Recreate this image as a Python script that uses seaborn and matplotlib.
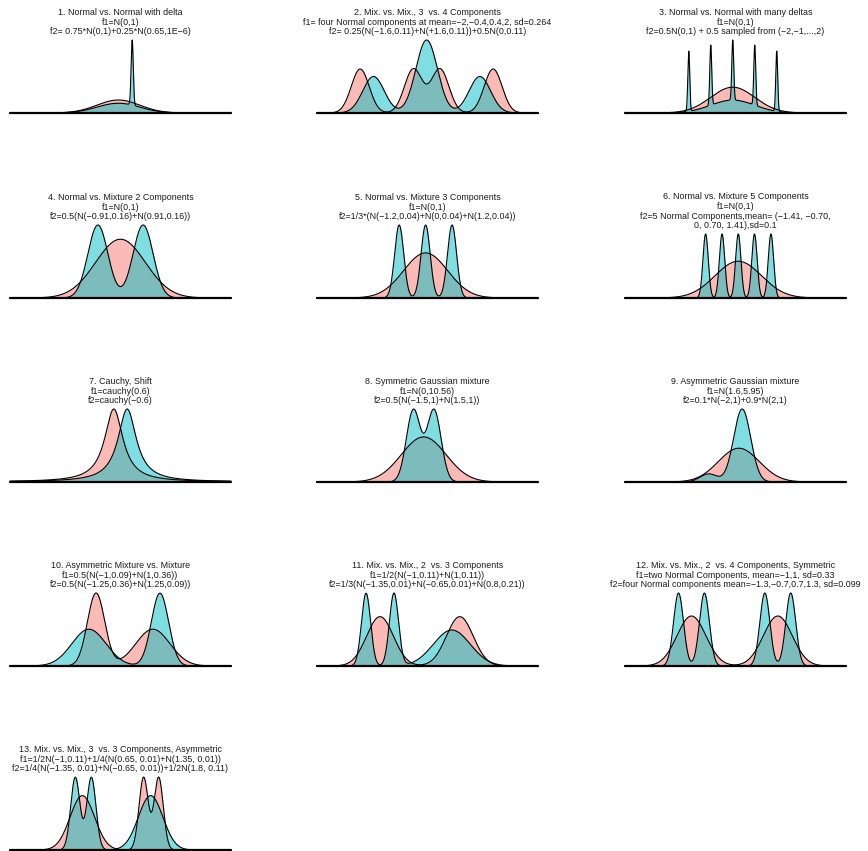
import numpy as np
import matplotlib
matplotlib.use("Agg")
import matplotlib.pyplot as plt
import seaborn as sns

# components per density: (kind, weight, location, scale); scale is an sd for "norm"
p1_f1 = [("norm", 1.0, 0.0, 1.0)]
p1_f2 = [("norm", 0.75, 0.0, 1.0), ("norm", 0.25, 0.65, 0.001)]
p2_f1 = [("norm", 0.25, -2.0, 0.264), ("norm", 0.25, -0.4, 0.264),
         ("norm", 0.25, 0.4, 0.264), ("norm", 0.25, 2.0, 0.264)]
p2_f2 = [("norm", 0.25, -1.6, 0.32), ("norm", 0.25, 1.6, 0.32), ("norm", 0.5, 0.0, 0.32)]
p3_f1 = [("norm", 1.0, 0.0, 1.0)]
p3_f2 = [("norm", 0.5, 0.0, 1.0), ("norm", 0.1, -2.0, 0.0), ("norm", 0.1, -1.0, 0.0),
         ("norm", 0.1, 0.0, 0.0), ("norm", 0.1, 1.0, 0.0), ("norm", 0.1, 2.0, 0.0)]
p4_f1 = [("norm", 1.0, 0.0, 1.0)]
p4_f2 = [("norm", 0.5, -0.91, 0.4), ("norm", 0.5, 0.91, 0.4)]
p5_f1 = [("norm", 1.0, 0.0, 1.0)]
p5_f2 = [("norm", 1 / 3, -1.2, 0.2), ("norm", 1 / 3, 0.0, 0.2), ("norm", 1 / 3, 1.2, 0.2)]
p6_f1 = [("norm", 1.0, 0.0, 1.0)]
p6_f2 = [("norm", 0.2, -1.41, 0.1), ("norm", 0.2, -0.70, 0.1), ("norm", 0.2, 0.0, 0.1),
         ("norm", 0.2, 0.70, 0.1), ("norm", 0.2, 1.41, 0.1)]
p7_f1 = [("cauchy", 1.0, -0.6, 1.0)]
p7_f2 = [("cauchy", 1.0, 0.6, 1.0)]
p8_f1 = [("norm", 1.0, 0.0, 3.25)]
p8_f2 = [("norm", 0.5, -1.5, 1.0), ("norm", 0.5, 1.5, 1.0)]
p9_f1 = [("norm", 1.0, 1.6, 2.44)]
p9_f2 = [("norm", 0.1, -2.0, 1.0), ("norm", 0.9, 2.0, 1.0)]
p10_f1 = [("norm", 0.5, -1.0, 0.3), ("norm", 0.5, 1.0, 0.6)]
p10_f2 = [("norm", 0.5, -1.25, 0.6), ("norm", 0.5, 1.25, 0.3)]
p11_f1 = [("norm", 0.5, -1.0, 0.332), ("norm", 0.5, 1.0, 0.332)]
p11_f2 = [("norm", 0.25, -1.35, 0.1), ("norm", 0.25, -0.65, 0.1), ("norm", 0.5, 0.8, 0.458)]
p12_f1 = [("norm", 0.5, -1.0, 0.33), ("norm", 0.5, 1.0, 0.33)]
p12_f2 = [("norm", 0.25, -1.3, 0.099), ("norm", 0.25, -0.7, 0.099),
          ("norm", 0.25, 0.7, 0.099), ("norm", 0.25, 1.3, 0.099)]
p13_f1 = [("norm", 0.5, -0.95, 0.3), ("norm", 0.25, 0.575, 0.1), ("norm", 0.25, 0.95, 0.1)]
p13_f2 = [("norm", 0.25, -1.125, 0.1), ("norm", 0.25, -0.725, 0.1), ("norm", 0.5, 0.75, 0.3)]

# x range of each panel and smoothing bandwidth of the density estimate
x_ranges = [(-5.1, 5.3), (-3.3, 3.35), (-4.9, 5.15), (-4.45, 4.45), (-4.93, 5.1),
            (-4.89, 4.65), (-9.9, 9.9), (-15.5, 16.6), (-12.0, 14.4), (-4.03, 3.75),
            (-2.58, 2.96), (-2.54, 2.58), (-2.75, 2.75)]
bandwidths = [0.05, 0.05, 0.043, 0.05, 0.05, 0.057, 0.05, 0.2, 0.2, 0.05, 0.055, 0.058, 0.055]

titles = [
    "1. Normal vs. Normal with delta\nf1=N(0,1)\nf2= 0.75*N(0,1)+0.25*N(0.65,1E\u22126)",
    "2. Mix. vs. Mix., 3  vs. 4 Components\nf1= four Normal components at mean=\u22122,\u22120.4,0.4,2, sd=0.264\nf2= 0.25(N(\u22121.6,0.11)+N(+1.6,0.11))+0.5N(0,0.11)",
    "3. Normal vs. Normal with many deltas\nf1=N(0,1)\nf2=0.5N(0,1) + 0.5 sampled from (\u22122,\u22121,...,2)",
    "4. Normal vs. Mixture 2 Components\nf1=N(0,1)\nf2=0.5(N(\u22120.91,0.16)+N(0.91,0.16))",
    "5. Normal vs. Mixture 3 Components\nf1=N(0,1)\nf2=1/3*(N(\u22121.2,0.04)+N(0,0.04)+N(1.2,0.04))",
    "6. Normal vs. Mixture 5 Components\nf1=N(0,1)\nf2=5 Normal Components,mean= (\u22121.41, \u22120.70,\n0, 0.70, 1.41),sd=0.1",
    "7. Cauchy, Shift\nf1=cauchy(0.6)\nf2=cauchy(\u22120.6)",
    "8. Symmetric Gaussian mixture\nf1=N(0,10.56)\nf2=0.5(N(\u22121.5,1)+N(1.5,1))",
    "9. Asymmetric Gaussian mixture\nf1=N(1.6,5.95)\nf2=0.1*N(\u22122,1)+0.9*N(2,1)",
    "10. Asymmetric Mixture vs. Mixture\nf1=0.5(N(\u22121,0.09)+N(1,0.36))\nf2=0.5(N(\u22121.25,0.36)+N(1.25,0.09))",
    "11. Mix. vs. Mix., 2  vs. 3 Components\nf1=1/2(N(\u22121,0.11)+N(1,0.11))\nf2=1/3(N(\u22121.35,0.01)+N(\u22120.65,0.01)+N(0.8,0.21))",
    "12. Mix. vs. Mix., 2  vs. 4 Components, Symmetric\nf1=two Normal Components, mean=\u22121,1, sd=0.33\nf2=four Normal components mean=\u22121.3,\u22120.7,0.7,1.3, sd=0.099",
    "13. Mix. vs. Mix., 3  vs. 3 Components, Asymmetric\nf1=1/2N(\u22121,0.11)+1/4(N(0.65, 0.01)+N(1.35, 0.01))\nf2=1/4(N(\u22121.35, 0.01)+N(\u22120.65, 0.01))+1/2N(1.8, 0.11)",
]

panels = [(p1_f1, p1_f2), (p2_f1, p2_f2), (p3_f1, p3_f2), (p4_f1, p4_f2), (p5_f1, p5_f2),
          (p6_f1, p6_f2), (p7_f1, p7_f2), (p8_f1, p8_f2), (p9_f1, p9_f2), (p10_f1, p10_f2),
          (p11_f1, p11_f2), (p12_f1, p12_f2), (p13_f1, p13_f2)]


def density(x, comps, bw):
    y = np.zeros_like(x)
    for kind, w, loc, scale in comps:
        if kind == "cauchy":
            y += w / (np.pi * scale * (1 + ((x - loc) / scale) ** 2))
        else:
            s = np.sqrt(scale ** 2 + bw ** 2)
            y += w * np.exp(-0.5 * ((x - loc) / s) ** 2) / (s * np.sqrt(2 * np.pi))
    return y


sns.set_style("white")
plt.rcParams["font.family"] = ["Liberation Sans", "DejaVu Sans"]

W, H = 868, 851
fig = plt.figure(figsize=(W / 100, H / 100), dpi=100)

col_left = [10, 317, 625]
panel_w = 221
row_base = [113, 298, 482, 666, 850]

for i, (f1, f2) in enumerate(panels):
    r, c = divmod(i, 3)
    base = row_base[r]
    top = base - 64 if i == 5 else base - 73
    ax = fig.add_axes([col_left[c] / W, 1 - base / H, panel_w / W, (base - top) / H])
    lo, hi = x_ranges[i]
    x = np.linspace(lo, hi, 5000)
    d1 = density(x, f1, bandwidths[i])
    d2 = density(x, f2, bandwidths[i])
    ymax = max(d1.max(), d2.max())

    ax.fill_between(x, d1, color="#F8766D", alpha=0.5, linewidth=0)
    sns.lineplot(x=x, y=d1, color="black", linewidth=0.8, sort=False, estimator=None, ax=ax)
    ax.fill_between(x, d2, color="#00BFC4", alpha=0.5, linewidth=0)
    sns.lineplot(x=x, y=d2, color="black", linewidth=0.8, sort=False, estimator=None, ax=ax)
    ax.plot([lo, hi], [0, 0], color="black", linewidth=1.6, clip_on=False)

    ax.set_xlim(lo, hi)
    ax.set_ylim(0, ymax)
    for ln in ax.lines:
        ln.set_clip_on(False)
    ax.axis("off")
    ax.set_title(titles[i], fontsize=6.4, linespacing=1.1, pad=4, color="#1a1a1a")

fig.savefig("out.png", dpi=100)
